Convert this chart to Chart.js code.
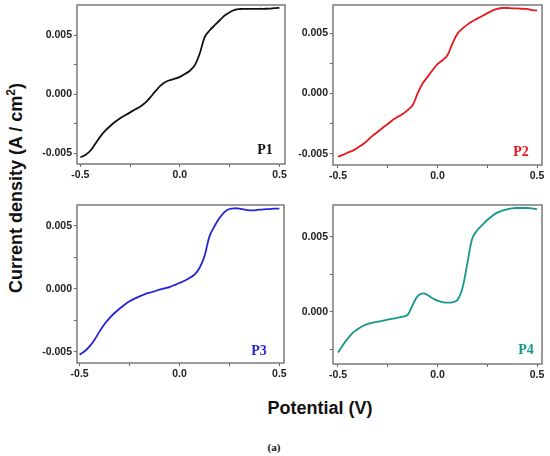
<!DOCTYPE html>
<html>
<head>
<meta charset="utf-8">
<script src="https://cdn.jsdelivr.net/npm/chart.js@4.4.0/dist/chart.umd.min.js"></script>
<style>
  body { margin: 0; background: #fff; width: 550px; height: 456px; position: relative; overflow: hidden; }
  .panel { position: absolute; }
  .tag { position: absolute; font: bold 14px "Liberation Serif", serif; transform: translate(-50%, -50%); }
  #ytitle { position: absolute; left: 16px; top: 188px; transform: translate(-50%, -50%) rotate(-90deg);
            font: bold 18px "Liberation Sans", Arial, sans-serif; color: #111; white-space: nowrap; }
  #ytitle sup { font-size: 12px; line-height: 0; vertical-align: 7px; }
  #xtitle { position: absolute; left: 320px; top: 408px; transform: translate(-50%, -50%);
            font: bold 18px "Liberation Sans", Arial, sans-serif; color: #111; white-space: nowrap; }
  #caption { position: absolute; left: 274px; top: 447px; transform: translate(-50%, -50%);
             font: bold 11px "Liberation Serif", serif; color: #111; }
</style>
</head>
<body>
<div id="ytitle">Current density (A / cm<sup>2</sup>)</div>
<div id="xtitle">Potential (V)</div>
<div id="caption">(a)</div>

<script>
// Potential (V), shared by all four samples
const potential = [
  -0.5, -0.475, -0.45, -0.425, -0.4, -0.375, -0.35, -0.325, -0.3, -0.275,
  -0.25, -0.225, -0.2, -0.175, -0.15, -0.125, -0.1, -0.075, -0.05, -0.025,
  0.0, 0.025, 0.05, 0.075, 0.1, 0.125, 0.15, 0.175, 0.2, 0.225,
  0.25, 0.275, 0.3, 0.325, 0.35, 0.375, 0.4, 0.425, 0.45, 0.475, 0.5
];

// Current density, in mA/cm2 (converted to A/cm2 below)
const p1 = [
  -5.35, -5.15, -4.8, -4.2, -3.6, -3.1, -2.7, -2.35, -2.05, -1.8,
  -1.55, -1.3, -1.07, -0.75, -0.3, 0.2, 0.68, 1.0, 1.18, 1.3,
  1.46, 1.7, 1.97, 2.45, 3.45, 4.85, 5.4, 5.83, 6.25, 6.65,
  6.93, 7.13, 7.2, 7.21, 7.21, 7.21, 7.22, 7.22, 7.23, 7.27, 7.3
];
const p2 = [
  -5.25, -5.1, -4.9, -4.75, -4.5, -4.22, -3.87, -3.5, -3.18, -2.85,
  -2.54, -2.2, -1.93, -1.71, -1.38, -0.97, 0.0, 0.83, 1.38, 1.93,
  2.43, 2.76, 3.18, 4.14, 4.97, 5.39, 5.72, 6.0, 6.22, 6.44,
  6.66, 6.88, 7.02, 7.1, 7.1, 7.07, 7.07, 7.04, 7.02, 6.93, 6.9
];
const p3 = [
  -5.24, -4.97, -4.58, -4.05, -3.39, -2.8, -2.33, -1.93, -1.59, -1.27,
  -1.0, -0.79, -0.61, -0.45, -0.32, -0.21, -0.08, 0.03, 0.13, 0.29,
  0.45, 0.63, 0.85, 1.11, 1.64, 2.57, 4.15, 4.95, 5.6, 6.08,
  6.32, 6.38, 6.35, 6.27, 6.22, 6.22, 6.27, 6.3, 6.32, 6.35, 6.35
];
const p4 = [
  -2.73, -2.22, -1.78, -1.4, -1.16, -0.96, -0.82, -0.73, -0.67, -0.6,
  -0.53, -0.47, -0.4, -0.33, -0.22, 0.44, 1.04, 1.22, 1.11, 0.89,
  0.73, 0.64, 0.6, 0.62, 0.78, 1.56, 3.22, 4.89, 5.44, 5.78,
  6.11, 6.38, 6.6, 6.73, 6.82, 6.89, 6.91, 6.91, 6.91, 6.89, 6.82
];

// Tick positions (minor ticks get no label)
const xTicks = [-0.5, -0.25, 0.0, 0.25, 0.5];
const xLabeled = [-0.5, 0.0, 0.5];
const yTicks = [-0.005, -0.0025, 0.0, 0.0025, 0.005];
const yTicksP4 = [-0.0025, 0.0, 0.0025, 0.005];
const yLabeled = [-0.005, 0.0, 0.005];

const panels = [
  { name: 'P1', data: p1, color: '#111111', area: [77, 5, 285, 164], x: [-0.517, 0.528], y: [-0.00592, 0.00754], yt: yTicks, tag: [265, 150] },
  { name: 'P2', data: p2, color: '#e8161c', area: [333, 5, 542, 165], x: [-0.525, 0.525], y: [-0.00594, 0.00735], yt: yTicks, tag: [521, 152] },
  { name: 'P3', data: p3, color: '#2424d6', area: [77, 205, 284, 363], x: [-0.513, 0.523], y: [-0.0059, 0.00664], yt: yTicks, tag: [259, 351] },
  { name: 'P4', data: p4, color: '#17968c', area: [333, 205, 542, 364], x: [-0.525, 0.525], y: [-0.00349, 0.00711], yt: yTicksP4, tag: [526, 350] }
];

const frame = {
  id: 'frame',
  afterDraw(chart) {
    const a = chart.chartArea;
    const ctx = chart.ctx;
    ctx.save();
    ctx.strokeStyle = '#7a7a7a';
    ctx.lineWidth = 1.5;
    ctx.strokeRect(a.left, a.top, a.right - a.left, a.bottom - a.top);
    ctx.restore();
  }
};

const tickFont = { family: '"Liberation Sans", Arial, sans-serif', size: 10.5, weight: 'bold' };

function isLabeled(list, v) {
  return list.some(t => Math.abs(t - v) < 1e-9);
}

panels.forEach(p => {
  const [L, T, R, B] = p.area;
  const div = document.createElement('div');
  div.className = 'panel';
  div.style.left = (L - 60) + 'px';
  div.style.top = (T - 12) + 'px';
  div.style.width = (R - L + 72) + 'px';
  div.style.height = (B - T + 38) + 'px';
  const canvas = document.createElement('canvas');
  div.appendChild(canvas);
  document.body.appendChild(div);

  const tag = document.createElement('div');
  tag.className = 'tag';
  tag.textContent = p.name;
  tag.style.left = p.tag[0] + 'px';
  tag.style.top = p.tag[1] + 'px';
  tag.style.color = p.color;
  document.body.appendChild(tag);

  new Chart(canvas.getContext('2d'), {
    type: 'line',
    data: {
      datasets: [{
        data: potential.map((v, i) => ({ x: v, y: p.data[i] / 1000 })),
        borderColor: p.color,
        borderWidth: 1.8,
        pointRadius: 0,
        fill: false,
        tension: 0.35
      }]
    },
    options: {
      responsive: true,
      maintainAspectRatio: false,
      animation: false,
      layout: { padding: { left: 0, top: 12, right: 12, bottom: 0 } },
      plugins: { legend: { display: false }, tooltip: { enabled: false } },
      scales: {
        x: {
          type: 'linear',
          min: p.x[0],
          max: p.x[1],
          afterBuildTicks: s => { s.ticks = xTicks.map(v => ({ value: v })); },
          afterFit: s => { s.height = 26; },
          border: { display: false },
          grid: { drawOnChartArea: false, drawTicks: true, tickLength: 3, color: '#666' },
          ticks: {
            padding: 2,
            color: '#222',
            font: tickFont,
            maxRotation: 0,
            callback: v => isLabeled(xLabeled, v) ? v.toFixed(1) : ''
          }
        },
        y: {
          type: 'linear',
          min: p.y[0],
          max: p.y[1],
          afterBuildTicks: s => { s.ticks = p.yt.map(v => ({ value: v })); },
          afterFit: s => { s.width = 60; },
          border: { display: false },
          grid: { drawOnChartArea: false, drawTicks: true, tickLength: 3, color: '#666' },
          ticks: {
            padding: 2,
            color: '#222',
            font: tickFont,
            callback: v => isLabeled(yLabeled, v) ? v.toFixed(3) : ''
          }
        }
      }
    },
    plugins: [frame]
  });
});
</script>
</body>
</html>
